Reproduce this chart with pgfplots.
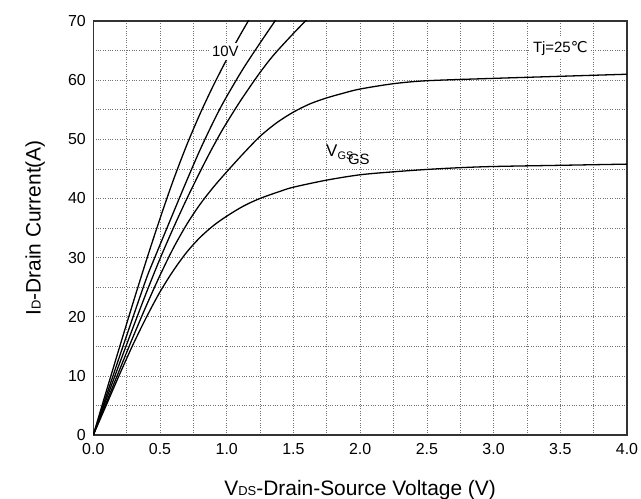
\documentclass[border=0pt]{standalone}
\usepackage{fontspec}
\setmainfont{Liberation Sans}
\newfontfamily\dejavu{DejaVu Sans}
\usepackage{pgfplots}
\pgfplotsset{compat=1.18}
\pgfplotsset{curve/.style={black, line width=1.3pt, smooth, no marks}}
\begin{document}
\begin{tikzpicture}
\begin{axis}[
 scale only axis, width=533.7bp, height=414bp,
 xmin=0, xmax=4, ymin=0, ymax=70,
 xtick={0,0.5,1,1.5,2,2.5,3,3.5,4}, ytick={0,10,20,30,40,50,60,70},
 minor x tick num=1, minor y tick num=1,
 grid=both,
 major grid style={black!55, dotted, line width=0.7pt},
 minor grid style={black!55, dotted, line width=0.7pt},
 major tick length=0pt, minor tick length=0pt,
 axis line style={black!80, line width=1.2pt},
 tick label style={font=\fontsize{16}{18}\selectfont},
 /pgf/number format/assume math mode=true,
 xticklabel style={yshift=-5bp, /pgf/number format/.cd, fixed, fixed zerofill, precision=1},
 yticklabel style={xshift=-4bp, /pgf/number format/.cd, fixed, precision=0},
 clip mode=individual,
]
% 10V
\addplot[curve] coordinates {(0,0) (0.1,7.6) (0.2,15.1) (0.3,22.5) (0.4,29.7) (0.5,36.6) (0.6,43.1) (0.7,49.0) (0.8,54.3) (0.9,59.1) (1.0,63.5) (1.1,67.6) (1.2,71.5)};
\addplot[curve] coordinates {(0,0) (0.1,6.8) (0.2,13.5) (0.3,20.1) (0.4,26.6) (0.4625,30.1) (0.6,37.6) (0.7,43.0) (0.812,48.8) (0.95,55.2) (1.095,60.9) (1.2,64.6) (1.362,70) (1.45,72.8)};
\addplot[curve] coordinates {(0,0) (0.1,6.2) (0.2,12.3) (0.3,18.3) (0.4,24.2) (0.5,29.8) (0.6,35.0) (0.7,39.9) (0.8,44.5) (0.875,47.8) (0.95,50.9) (1.0,52.8) (1.1,56.4) (1.237,60.9) (1.35,64.2) (1.5,67.9) (1.6125,70.5) (1.7,72.4)};
\addplot[curve] coordinates {(0,0) (0.1,5.6) (0.2,11.2) (0.3,16.7) (0.4,22.0) (0.5,27.0) (0.6,31.6) (0.7,35.6) (0.8,39.0) (0.9,41.9) (1.0,44.5) (1.125,47.6) (1.25,50.5) (1.375,52.8) (1.5,54.6) (1.625,56.0) (1.75,57.0) (1.875,57.8) (2.0,58.5) (2.25,59.4) (2.5,59.9) (3.0,60.3) (3.5,60.65) (4.0,61.0)};
\addplot[curve] coordinates {(0,0) (0.1,5.2) (0.2,10.4) (0.3,15.4) (0.4,20.0) (0.5,24.2) (0.6,27.8) (0.7,30.9) (0.8,33.4) (0.9,35.4) (1.0,37.0) (1.125,38.7) (1.25,40.0) (1.4,41.2) (1.5,41.9) (1.75,43.1) (2.0,44.0) (2.25,44.5) (2.5,44.9) (2.75,45.2) (3.0,45.4) (3.5,45.6) (4.0,45.8)};
\node[fill=white, inner sep=3pt, font=\fontsize{15}{17}\selectfont] at (axis cs:0.99,64.8) {10V};
\node[fill=white, inner sep=3pt, font=\fontsize{15}{17}\selectfont] at (axis cs:3.5,65.4) {Tj=25{\dejavu ℃}};
\node[font=\fontsize{17}{19}\selectfont] at (axis cs:1.787,48.0) {V};
\node[font=\fontsize{11}{13}\selectfont] at (axis cs:1.89,47.2) {GS};
\node[font=\fontsize{15}{17}\selectfont] at (axis cs:1.99,46.6) {GS};
\node[rotate=90, font=\fontsize{21}{23}\selectfont] at (axis description cs:-0.1087,0.5) {I{\fontsize{13}{15}\selectfont D}-Drain Current(A)};
\node[font=\fontsize{21}{23}\selectfont] at (axis description cs:0.5,-0.132) {V{\fontsize{13}{15}\selectfont DS}-Drain-Source Voltage (V)};
\end{axis}
\pgfresetboundingbox
\path (-93.3bp,-64bp) rectangle (547.7bp,435bp);
\end{tikzpicture}
\end{document}
